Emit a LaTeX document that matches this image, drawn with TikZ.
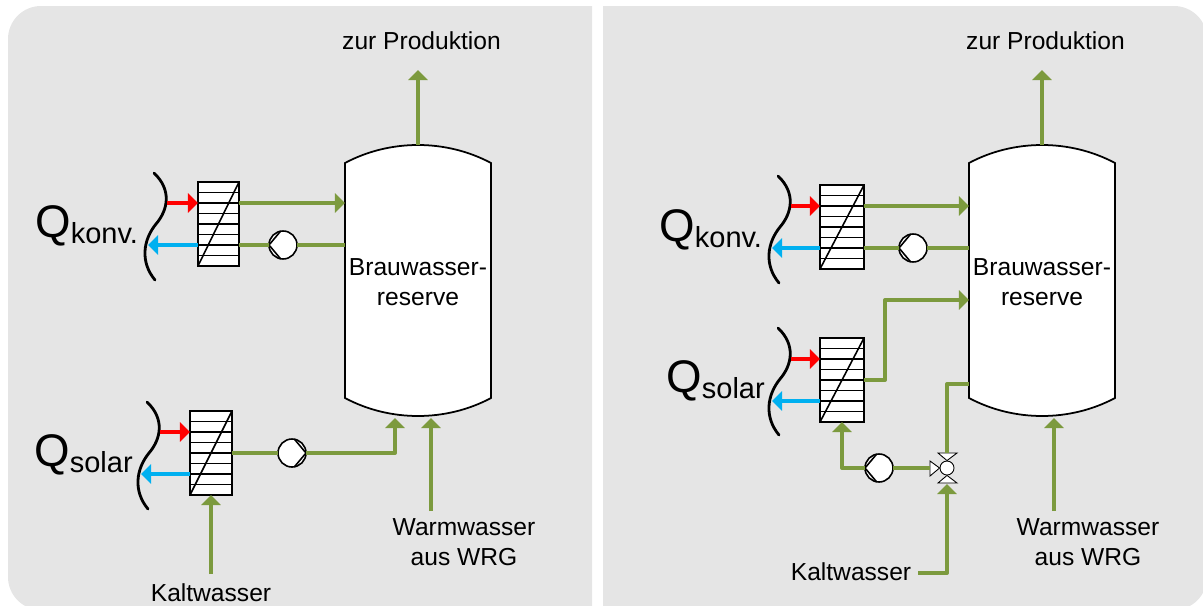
\documentclass[tikz,border=0pt]{standalone}
\usepackage{fontspec}
\setmainfont{Liberation Sans}
\usetikzlibrary{arrows.meta,calc}
\definecolor{panelgray}{HTML}{E5E5E5}
\definecolor{pipegreen}{HTML}{7C9A3E}
\definecolor{coldblue}{HTML}{00B0F0}
\tikzset{
  pipe/.style={draw=pipegreen,line width=2.25pt,line join=round},
  pipetip/.style={pipe,-{Triangle[length=5.7pt,width=10.8pt]}},
  hotline/.style={draw=red,line width=2.25pt,-{Triangle[length=5.7pt,width=10.8pt]}},
  coldline/.style={draw=coldblue,line width=2.25pt,-{Triangle[length=5.7pt,width=10.8pt]}},
  hxbox/.style={draw,fill=white,line width=.9pt,inner sep=0pt,outer sep=0pt},
  pumpbox/.style={circle,draw,fill=white,line width=.9pt,inner sep=0pt,outer sep=0pt,minimum size=28*0.02cm},
  label/.style={font=\fontsize{14}{17}\selectfont,inner sep=0pt,align=center},
  qlabel/.style={font=\fontsize{16.5}{19}\selectfont,inner sep=0pt,anchor=base west}
}
\newcommand{\hx}[5]{
  \node[hxbox,anchor=north west,minimum width=#4*0.02cm,minimum height=#5*0.02cm] (#1) at (#2,#3) {};
  \foreach \i in {1,...,7}
    \draw[line width=.9pt] ($(#1.north west)!\i/8!(#1.south west)$) -- ($(#1.north east)!\i/8!(#1.south east)$);
  \draw[line width=.9pt] (#1.south west) -- (#1.north east);
  \coordinate (#1-a) at ($(#1.north west)!.25!(#1.south west)$);
  \coordinate (#1-b) at ($(#1.north east)!.25!(#1.south east)$);
  \coordinate (#1-c) at ($(#1.north west)!.75!(#1.south west)$);
  \coordinate (#1-d) at ($(#1.north east)!.75!(#1.south east)$);
  \coordinate (#1-e) at (#1.east);
}
\newcommand{\wave}[3]{
  \draw[line width=1.6pt,line cap=round] (#2,#3) .. controls (#2+18,#3+17) and (#2+14,#3+37) .. (#2+2,#3+51)
    .. controls (#2-11,#3+67) and (#2-14,#3+89) .. (#2+1,#3+107);
  \coordinate (#1-r) at (#2+13,#3+30);
  \coordinate (#1-l) at (#2-6,#3+72);
}
\newcommand{\pump}[4]{
  \node[pumpbox] (#1) at (#2,#3) {};
  \draw[line width=.9pt] (#1.\the\numexpr#4+80\relax) -- (#1.#4) -- (#1.\the\numexpr#4-80\relax);
}
\newcommand{\tank}[2]{
  \draw[fill=white,line width=1pt] (#2,163) .. controls (#2+45,139) and (#2+101,139) .. (#2+146,163)
    -- (#2+146,398) .. controls (#2+101,422) and (#2+45,422) .. (#2,398) -- cycle;
  \coordinate (#1-w) at (#2,280);
  \coordinate (#1-n) at (#2+73,145);
}
\begin{document}
\begin{tikzpicture}[x=0.02cm,y=-0.02cm]
\useasboundingbox (0,0) rectangle (1203,605);
\clip (0,0) rectangle (1203,605);
\fill[panelgray] (592,6) [rounded corners=.66cm] -- (8,6) -- (8,610) [sharp corners] -- (592,610) -- cycle;
\fill[panelgray] (603,6) [rounded corners=.66cm] -- (1207,6) -- (1207,610) [sharp corners] -- (603,610) -- cycle;

% linke Seite
\coordinate (outa) at (418,70);
\coordinate (warma) at (431,511);
\coordinate (warmtipa) at (431,418);
\coordinate (kalta) at (211,574);
\coordinate (solartipa) at (395,418);
\tank{tanka}{345}
\hx{hxa}{198}{182}{41}{84}
\hx{hxb}{190}{411}{42}{84}
\wave{wavea}{154}{173}
\wave{waveb}{147}{402}
\pump{pa}{283}{245}{180}
\pump{pb}{292}{453}{360}
\draw[pipetip] (tanka-n) -- (outa);
\draw[pipetip] (hxa-b) -- (hxa-b -| tanka-w);
\draw[pipe] (hxa-d) -- (pa);
\draw[pipe] (pa) -- (pa -| tanka-w);
\draw[pipe] (hxb-e) -- (pb);
\draw[pipetip] (pb) -| (solartipa);
\draw[pipetip] (warma) -- (warmtipa);
\draw[pipetip] (kalta) -- (hxb.south -| kalta);
\draw[hotline] (wavea-r |- hxa-a) -- (hxa-a);
\draw[coldline] (hxa-c) -- (wavea-l |- hxa-c);
\draw[hotline] (waveb-r |- hxb-a) -- (hxb-a);
\draw[coldline] (hxb-c) -- (waveb-l |- hxb-c);
\node (qa) at (35,243) [qlabel] {\raisebox{3.4pt}{\fontsize{26}{26}\selectfont Q}konv.};
\node (qb) at (34,472) [qlabel] {\raisebox{3.4pt}{\fontsize{26}{26}\selectfont Q}solar};
\node[label] (proda) at (421.5,41) {zur Produktion};
\node[label] (braua) at (418,282) {Brauwasser-\\reserve};
\node[label] (warmtexta) at (464,542) {Warmwasser\\aus WRG};
\node[label] (kalttexta) at (211,593) {Kaltwasser};

% rechte Seite
\coordinate (outb) at (1042,70);
\coordinate (warmb) at (1054,511);
\coordinate (warmtipb) at (1054,418);
\coordinate (kaltb) at (918,573);
\coordinate (solarkink) at (885,300);
\coordinate (tanklow) at (969,384);
\tank{tankb}{969}
\hx{hxc}{820}{185}{44}{84}
\hx{hxd}{820}{338}{44}{84}
\wave{wavec}{778}{176}
\wave{waved}{778}{328}
\pump{pc}{913}{248}{180}
\pump{pd}{879}{468}{180}
\node[circle,draw,fill=white,line width=.5pt,inner sep=0pt,minimum size=14*0.02cm] (valve) at (947,468) {};
\filldraw[fill=white,line width=.5pt] (valve.west) -- (930,461) -- (930,476) -- cycle;
\filldraw[fill=white,line width=.5pt] (valve.north) -- (938,453) -- (957,453) -- cycle;
\filldraw[fill=white,line width=.5pt] (valve.south) -- (938,483) -- (957,483) -- cycle;
\coordinate (valve-w) at (930,468);
\coordinate (valve-n) at (947,453);
\coordinate (valve-s) at (947,484);
\draw[pipetip] (tankb-n) -- (outb);
\draw[pipetip] (hxc-b) -- (hxc-b -| tankb-w);
\draw[pipe] (hxc-d) -- (pc);
\draw[pipe] (pc) -- (pc -| tankb-w);
\draw[pipetip] (hxd-e) -| (solarkink) -- (solarkink -| tankb-w);
\draw[pipetip] (pd) -| (hxd.south);
\draw[pipe] (pd) -- (valve-w);
\draw[pipe] (valve-n) |- (tanklow);
\draw[pipetip] (kaltb) -| (valve-s);
\draw[pipetip] (warmb) -- (warmtipb);
\draw[hotline] (wavec-r |- hxc-a) -- (hxc-a);
\draw[coldline] (hxc-c) -- (wavec-l |- hxc-c);
\draw[hotline] (waved-r |- hxd-a) -- (hxd-a);
\draw[coldline] (hxd-c) -- (waved-l |- hxd-c);
\node (qc) at (659,247) [qlabel] {\raisebox{3.4pt}{\fontsize{26}{26}\selectfont Q}konv.};
\node (qd) at (666,398) [qlabel] {\raisebox{3.4pt}{\fontsize{26}{26}\selectfont Q}solar};
\node[label] (prodb) at (1045.5,41) {zur Produktion};
\node[label] (braub) at (1042,282) {Brauwasser-\\reserve};
\node[label] (warmtextb) at (1088,542) {Warmwasser\\aus WRG};
\node[label] (kalttextb) at (851,572) {Kaltwasser};
\end{tikzpicture}
\end{document}
